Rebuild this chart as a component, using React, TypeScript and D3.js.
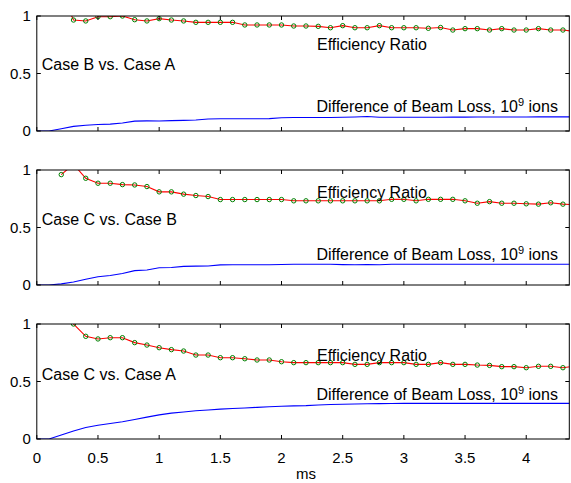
import React, { useEffect, useRef } from 'react';
import * as d3 from 'd3';

// time grids (ms)
const ratioTimes = [0.2, 0.3, 0.4, 0.5, 0.6, 0.7, 0.8, 0.9, 1.0, 1.1, 1.2, 1.3, 1.4, 1.5, 1.6, 1.7, 1.8, 1.9, 2.0, 2.1, 2.2, 2.3, 2.4, 2.5, 2.6, 2.7, 2.8, 2.9, 3.0, 3.1, 3.2, 3.3, 3.4, 3.5, 3.6, 3.7, 3.8, 3.9, 4.0, 4.1, 4.2, 4.3, 4.4];
const lossTimes = [0, 0.1, 0.2, 0.3, 0.4, 0.5, 0.6, 0.7, 0.8, 0.9, 1.0, 1.1, 1.2, 1.3, 1.4, 1.5, 1.6, 1.7, 1.8, 1.9, 2.0, 2.1, 2.2, 2.3, 2.4, 2.5, 2.6, 2.7, 2.8, 2.9, 3.0, 3.1, 3.2, 3.3, 3.4, 3.5, 3.6, 3.7, 3.8, 3.9, 4.0, 4.1, 4.2, 4.3, 4.4];

// Efficiency ratio per panel
const ratioBA = [1.2, 0.965, 0.957, 0.994, 0.994, 1.0, 0.968, 0.957, 0.977, 0.965, 0.957, 0.945, 0.945, 0.945, 0.945, 0.922, 0.922, 0.922, 0.922, 0.913, 0.913, 0.91, 0.898, 0.916, 0.898, 0.898, 0.916, 0.898, 0.898, 0.898, 0.893, 0.9, 0.878, 0.89, 0.89, 0.878, 0.89, 0.878, 0.878, 0.89, 0.878, 0.878, 0.865];
const ratioCB = [0.96, 1.05, 0.928, 0.885, 0.885, 0.873, 0.87, 0.856, 0.81, 0.81, 0.79, 0.778, 0.769, 0.743, 0.743, 0.743, 0.743, 0.743, 0.743, 0.732, 0.732, 0.732, 0.732, 0.732, 0.732, 0.732, 0.732, 0.745, 0.745, 0.732, 0.745, 0.745, 0.745, 0.732, 0.711, 0.725, 0.711, 0.711, 0.706, 0.703, 0.715, 0.703, 0.698];
const ratioCA = [1.6, 1.0, 0.893, 0.87, 0.881, 0.881, 0.838, 0.817, 0.794, 0.777, 0.765, 0.73, 0.73, 0.707, 0.707, 0.698, 0.687, 0.687, 0.672, 0.664, 0.664, 0.664, 0.664, 0.664, 0.649, 0.649, 0.664, 0.664, 0.664, 0.649, 0.649, 0.664, 0.649, 0.649, 0.643, 0.64, 0.629, 0.629, 0.62, 0.632, 0.632, 0.62, 0.635];

// Difference of beam loss (1e9 ions) per panel
const lossBA = [0, 0, 0.02, 0.04, 0.05, 0.057, 0.06, 0.07, 0.086, 0.088, 0.087, 0.09, 0.092, 0.096, 0.105, 0.106, 0.106, 0.106, 0.106, 0.108, 0.115, 0.118, 0.118, 0.118, 0.118, 0.119, 0.122, 0.126, 0.12, 0.12, 0.12, 0.12, 0.12, 0.12, 0.121, 0.121, 0.122, 0.122, 0.122, 0.122, 0.122, 0.123, 0.123, 0.123, 0.123];
const lossCB = [0, 0, 0.01, 0.026, 0.05, 0.072, 0.083, 0.1, 0.125, 0.13, 0.15, 0.152, 0.162, 0.164, 0.165, 0.175, 0.176, 0.176, 0.176, 0.176, 0.178, 0.18, 0.18, 0.18, 0.18, 0.177, 0.176, 0.178, 0.176, 0.18, 0.18, 0.18, 0.18, 0.18, 0.18, 0.18, 0.18, 0.18, 0.18, 0.18, 0.18, 0.18, 0.18, 0.18, 0.18];
const lossCA = [0, 0, 0.035, 0.07, 0.1, 0.12, 0.135, 0.15, 0.17, 0.19, 0.21, 0.225, 0.235, 0.245, 0.252, 0.26, 0.265, 0.27, 0.275, 0.28, 0.285, 0.288, 0.29, 0.295, 0.3, 0.302, 0.305, 0.307, 0.308, 0.309, 0.31, 0.31, 0.31, 0.31, 0.31, 0.31, 0.31, 0.31, 0.31, 0.31, 0.31, 0.31, 0.31, 0.31, 0.31];

const caseLabels = ['Case B vs. Case A', 'Case C vs. Case B', 'Case C vs. Case A'];
const xTicks = [0, 0.5, 1, 1.5, 2, 2.5, 3, 3.5, 4];
const xTickLabels = ['0', '0.5', '1', '1.5', '2', '2.5', '3', '3.5', '4'];
const yTicks = [0, 0.5, 1];
const yTickLabels = ['0', '0.5', '1'];

const W = 571;
const H = 483;
const FONT = '"Liberation Sans", Arial, sans-serif';

export default function App() {
    const ref = useRef<SVGSVGElement>(null);

    useEffect(() => {
        if (!ref.current) return;
        const svg = d3.select(ref.current);
        svg.selectAll('*').remove();

        const left = 36.8, right = 569.3;
        const panelTops = [16, 170, 324];
        const panelH = 115;
        const x = d3.scaleLinear().domain([0, 4.352]).range([left, right]);

        const panels = [
            { ratio: ratioBA, loss: lossBA, effY: 0.704, diffY: 0.165, caseY: 0.53 },
            { ratio: ratioCB, loss: lossCB, effY: 0.757, diffY: 0.217, caseY: 0.52 },
            { ratio: ratioCA, loss: lossCA, effY: 0.678, diffY: 0.339, caseY: 0.51 },
        ];

        panels.forEach((p, i) => {
            const top = panelTops[i];
            const y = d3.scaleLinear().domain([0, 1]).range([top + panelH, top]);
            const g = svg.append('g');
            const clipId = `clip${i}`;
            g.append('clipPath').attr('id', clipId)
                .append('rect').attr('x', left).attr('y', top)
                .attr('width', right - left).attr('height', panelH);

            const plot = g.append('g').attr('clip-path', `url(#${clipId})`);

            const loss = lossTimes.map((t, k) => [t, p.loss[k]] as [number, number]);
            plot.append('path').datum(loss)
                .attr('d', d3.line().x(d => x(d[0])).y(d => y(d[1])))
                .attr('fill', 'none').attr('stroke', '#0000ff').attr('stroke-width', 1.1);

            const ratio = ratioTimes.map((t, k) => [t, p.ratio[k]] as [number, number]);
            plot.append('path').datum(ratio)
                .attr('d', d3.line().x(d => x(d[0])).y(d => y(d[1])))
                .attr('fill', 'none').attr('stroke', '#ff0000').attr('stroke-width', 1.1);

            plot.selectAll('circle').data(ratio).join('circle')
                .attr('cx', d => x(d[0])).attr('cy', d => y(d[1])).attr('r', 2.2)
                .attr('fill', 'none').attr('stroke', '#008000').attr('stroke-width', 1);

            // box
            g.append('rect').attr('x', left).attr('y', top)
                .attr('width', right - left).attr('height', panelH)
                .attr('fill', 'none').attr('stroke', '#000').attr('stroke-width', 1);

            // ticks, inward on all sides
            const tl = 4;
            xTicks.forEach(t => {
                g.append('line').attr('x1', x(t)).attr('x2', x(t))
                    .attr('y1', top + panelH).attr('y2', top + panelH - tl).attr('stroke', '#000');
                g.append('line').attr('x1', x(t)).attr('x2', x(t))
                    .attr('y1', top).attr('y2', top + tl).attr('stroke', '#000');
            });
            yTicks.forEach((t, k) => {
                g.append('line').attr('x1', left).attr('x2', left + tl)
                    .attr('y1', y(t)).attr('y2', y(t)).attr('stroke', '#000');
                g.append('line').attr('x1', right).attr('x2', right - tl)
                    .attr('y1', y(t)).attr('y2', y(t)).attr('stroke', '#000');
                g.append('text').attr('x', left - 6).attr('y', y(t) + 5)
                    .attr('text-anchor', 'end').attr('font-size', 15).attr('font-family', FONT)
                    .text(yTickLabels[k]);
            });

            if (i === 2) {
                xTicks.forEach((t, k) => {
                    g.append('text').attr('x', x(t)).attr('y', top + panelH + 23.5)
                        .attr('text-anchor', 'middle').attr('font-size', 15).attr('font-family', FONT)
                        .text(xTickLabels[k]);
                });
            }

            g.append('text').attr('x', x(0.04)).attr('y', y(p.caseY))
                .attr('font-size', 16).attr('font-family', FONT).text(caseLabels[i]);
            g.append('text').attr('x', x(2.29)).attr('y', y(p.effY))
                .attr('font-size', 16).attr('font-family', FONT).text('Efficiency Ratio');
            const diff = g.append('text').attr('x', x(2.285)).attr('y', y(p.diffY))
                .attr('font-size', 16).attr('font-family', FONT);
            diff.append('tspan').text('Difference of Beam Loss, 10');
            diff.append('tspan').attr('font-size', 11).attr('dy', -6).text('9');
            diff.append('tspan').attr('dy', 6).text(' ions');
        });

        svg.append('text').attr('x', x(2.2)).attr('y', 479)
            .attr('text-anchor', 'middle').attr('font-size', 15).attr('font-family', FONT)
            .text('ms');
    }, []);

    return (
        <svg ref={ref} width={W} height={H}
            style={{ position: 'absolute', left: 0, top: 0, background: '#fff' }} />
    );
}
